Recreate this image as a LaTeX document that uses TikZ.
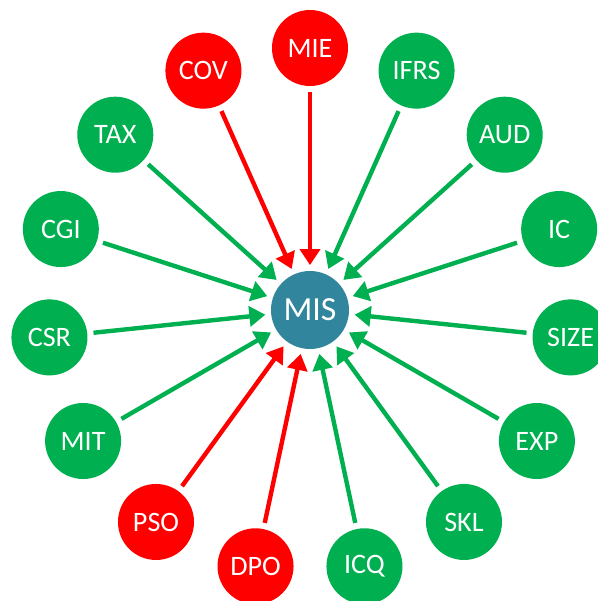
\documentclass[tikz,border=0pt]{standalone}
\usepackage{fontspec}
\setmainfont{Carlito}
\usetikzlibrary{arrows.meta}
\definecolor{misgreen}{HTML}{00B050}
\definecolor{misred}{HTML}{FF0000}
\definecolor{misteal}{HTML}{31859C}
\begin{document}
\begin{tikzpicture}[
                x=0.025cm, y=0.025cm,
                factor/.style={circle, fill=#1, text=white, minimum size=1.9cm,
                               inner sep=0pt, font=\fontsize{20}{24}\selectfont},
                hub/.style={circle, fill=misteal, text=white, minimum size=1.95cm,
                            inner sep=0pt, font=\fontsize{24}{28}\selectfont},
                link/.style={draw=#1, line width=0.11cm, shorten <=0.15cm, shorten >=0.14cm,
                             -{Triangle[length=0.4cm,width=0.5cm]}}
            ]
            \useasboundingbox (0,0) rectangle (598,-601);
            \clip (0,0) rectangle (598,-601);
            \node[hub] (mis) at (310,-310) {MIS};
            % factors, counter-clockwise from the top
            \foreach \name/\col [count=\i from 0] in {MIE/misred, COV/misred, TAX/misgreen,
                    CGI/misgreen, CSR/misgreen, MIT/misgreen, PSO/misred, DPO/misred,
                    ICQ/misgreen, SKL/misgreen, EXP/misgreen, SIZE/misgreen, IC/misgreen,
                    AUD/misgreen, IFRS/misgreen}{
                \node[factor=\col] (\name) at ([shift={(90+24*\i:262)}]mis.center) {\name};
                \draw[link=\col] (\name) -- (mis);
            }
        \end{tikzpicture}
\end{document}
